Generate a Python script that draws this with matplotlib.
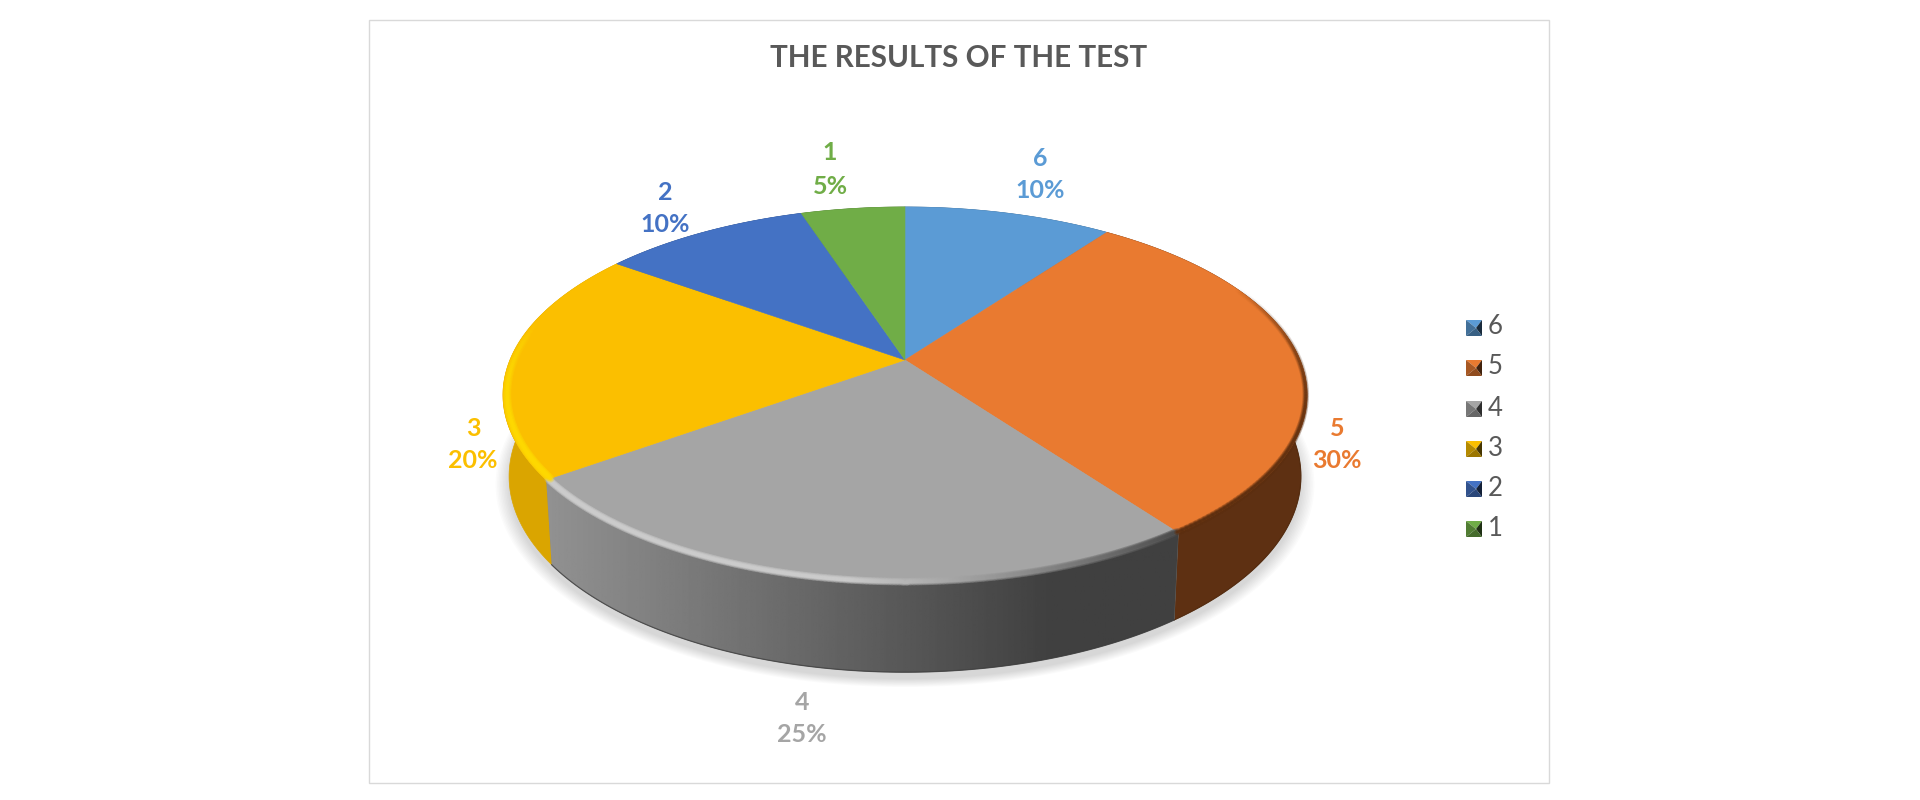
import numpy as np
import matplotlib
matplotlib.use('Agg')
import matplotlib.pyplot as plt
from matplotlib.collections import LineCollection
from matplotlib.patches import Polygon, Rectangle

plt.rcParams['font.family'] = ['Lato', 'DejaVu Sans']

# data, clockwise from 12 o'clock
names = ['6', '5', '4', '3', '2', '1']
shares = [10, 30, 25, 20, 10, 5]
colors = ['#5B9BD5', '#E97A30', '#A5A5A5', '#FBBF00', '#4472C4', '#70AD47']
side_colors = ['#3A6488', '#5E3012', '#666666', '#DAA500', '#2C4A80', '#48702E']
title = 'THE RESULTS OF THE TEST'

# label centres in pixels (name line, percent line)
label_pos = [(1040, 158, 191), (1337, 428, 461), (802, 702, 734),
             (473, 428, 461), (665, 192, 225), (830, 153, 186)]
legend_y = [328, 368, 409, 449, 489, 529]

CX, CY = 905, 360


def top_xy(u, v):
    # perspective view of the unit circle, top face
    w = 1 + 0.186 * v
    return CX + 395 * u / w, CY - 181.5 * v / w


def low_xy(u, v):
    # same circle, bottom of the pie
    w = 1 + 0.186 * v
    return CX + 389 * u / w, 440 - 189 * v / w


def arc(share_from, share_to, func, r=1.0, n=120):
    a = np.radians(np.linspace(share_from, share_to, n) * 3.6)
    x, y = func(r * np.sin(a), r * np.cos(a))
    return np.column_stack([x, y])


def rim(ax, p_from, p_to, rgba_func, r, lw, z):
    # soft edge: a few strokes on top of each other
    pts = arc(p_from, p_to, top_xy, r=r, n=100)
    segs = np.stack([pts[:-1], pts[1:]], axis=1)
    t = np.linspace(0, 1, len(segs))
    for width, fade in [(lw * 1.7, 0.3), (lw * 1.2, 0.4), (lw * 0.7, 0.8)]:
        cols = []
        for i in t:
            c = rgba_func(i)
            cols.append((c[0], c[1], c[2], c[3] * fade))
        ax.add_collection(LineCollection(segs, colors=cols, linewidths=width, zorder=z, capstyle='round'))


fig = plt.figure(figsize=(19.2, 8), dpi=100)
ax = fig.add_axes([0, 0, 1, 1])

# chart frame
ax.add_patch(Rectangle((369, 20), 1180, 763, fc='white', ec='#D9D9D9', lw=1, zorder=0))

# soft shadow under the pie
low_ring = arc(0, 100, low_xy, n=300)
for i in range(10):
    g = 1 + i * 0.0038
    ring = np.column_stack([CX + (low_ring[:, 0] - CX) * g,
                            444 + 3 + (low_ring[:, 1] - 440) * g])
    ax.add_patch(Polygon(ring, fc='black', ec='none', alpha=0.016, zorder=1))

# side walls and top faces
edges = np.cumsum([0] + shares)
for i in range(len(shares)):
    p0, p1 = edges[i], edges[i + 1]
    top_arc = arc(p0, p1, top_xy)
    low_arc = arc(p0, p1, low_xy)
    wall = np.vstack([top_arc, low_arc[::-1]])
    patch = Polygon(wall, fc=side_colors[i], ec=side_colors[i], lw=0.5, zorder=2)
    ax.add_patch(patch)
    if names[i] == '4':
        # grey wall runs from light on the left to dark on the right
        grad = np.interp(np.linspace(0, 1, 400), [0, 0.8, 1], [0.57, 0.25, 0.25])
        im = ax.imshow(grad[None, :], extent=(546, 1180, 700, 400), cmap='gray',
                       vmin=0, vmax=1, aspect='auto', zorder=3)
        im.set_clip_path(patch)

# thin darker line along the foot of the wall
foot = arc(40, 65, low_xy)
ax.plot(foot[:, 0], foot[:, 1], color='#3C3C3C', lw=0.9, alpha=0.7, zorder=4)
foot = arc(10, 40, low_xy)
ax.plot(foot[:, 0], foot[:, 1], color='#4A2408', lw=0.8, alpha=0.7, zorder=2.5)

for i in range(len(shares)):
    p0, p1 = edges[i], edges[i + 1]
    face = np.vstack([[top_xy(0, 0)], arc(p0, p1, top_xy)])
    ax.add_patch(Polygon(face, fc=colors[i], ec=colors[i], lw=0.4, zorder=5))

# bevel along the front rim
rim(ax, 65, 52, lambda t: (0.80, 0.80, 0.80, 1.0), 0.995, 3.2, 6)
rim(ax, 52, 40, lambda t: (0.80 - 0.5 * t, 0.80 - 0.5 * t, 0.80 - 0.5 * t, 1.0), 0.995, 3.2, 6)
rim(ax, 40, 18, lambda t: (0.36, 0.18, 0.06, 1 - t), 0.997, 2.8, 6)
rim(ax, 65, 79, lambda t: (1.0, 0.85, 0.0, 1 - t), 0.990, 3.6, 6)

# title
ax.text(959, 58, title, ha='center', va='center', fontsize=21.3, fontweight='bold', color='#595959', zorder=8)

# data labels
for name, share, col, (x, y0, y1) in zip(names, shares, colors, label_pos):
    ax.text(x, y0, name, ha='center', va='center', fontsize=18, fontweight='bold', color=col, zorder=8)
    ax.text(x, y1, f'{share}%', ha='center', va='center', fontsize=18, fontweight='bold', color=col, zorder=8)


def shade(hex_col, f):
    rgb = np.array(matplotlib.colors.to_rgb(hex_col))
    return tuple(rgb * f)


# legend with bevelled keys
for name, col, y in zip(names, colors, legend_y):
    x0, x1, y0, y1 = 1466, 1482, y - 8, y + 8
    xm, ym = (x0 + x1) / 2 + 2, (y0 + y1) / 2
    ax.add_patch(Polygon([(x0, y0), (x1, y0), (xm, ym)], fc=shade(col, 1.0), ec='none', zorder=8))
    ax.add_patch(Polygon([(x0, y0), (x0, y1), (xm, ym)], fc=shade(col, 0.72), ec='none', zorder=8))
    ax.add_patch(Polygon([(x1, y0), (x1, y1), (xm, ym)], fc=shade(col, 0.28), ec='none', zorder=8))
    ax.add_patch(Polygon([(x0, y1), (x1, y1), (xm, ym)], fc=shade(col, 0.62), ec='none', zorder=8))
    ax.text(1488, y - 1, name, ha='left', va='center', fontsize=18.5, color='#595959', zorder=8)

ax.set_xlim(0, 1920)
ax.set_ylim(800, 0)
ax.axis('off')

fig.savefig('out.png', dpi=100, facecolor='white')
